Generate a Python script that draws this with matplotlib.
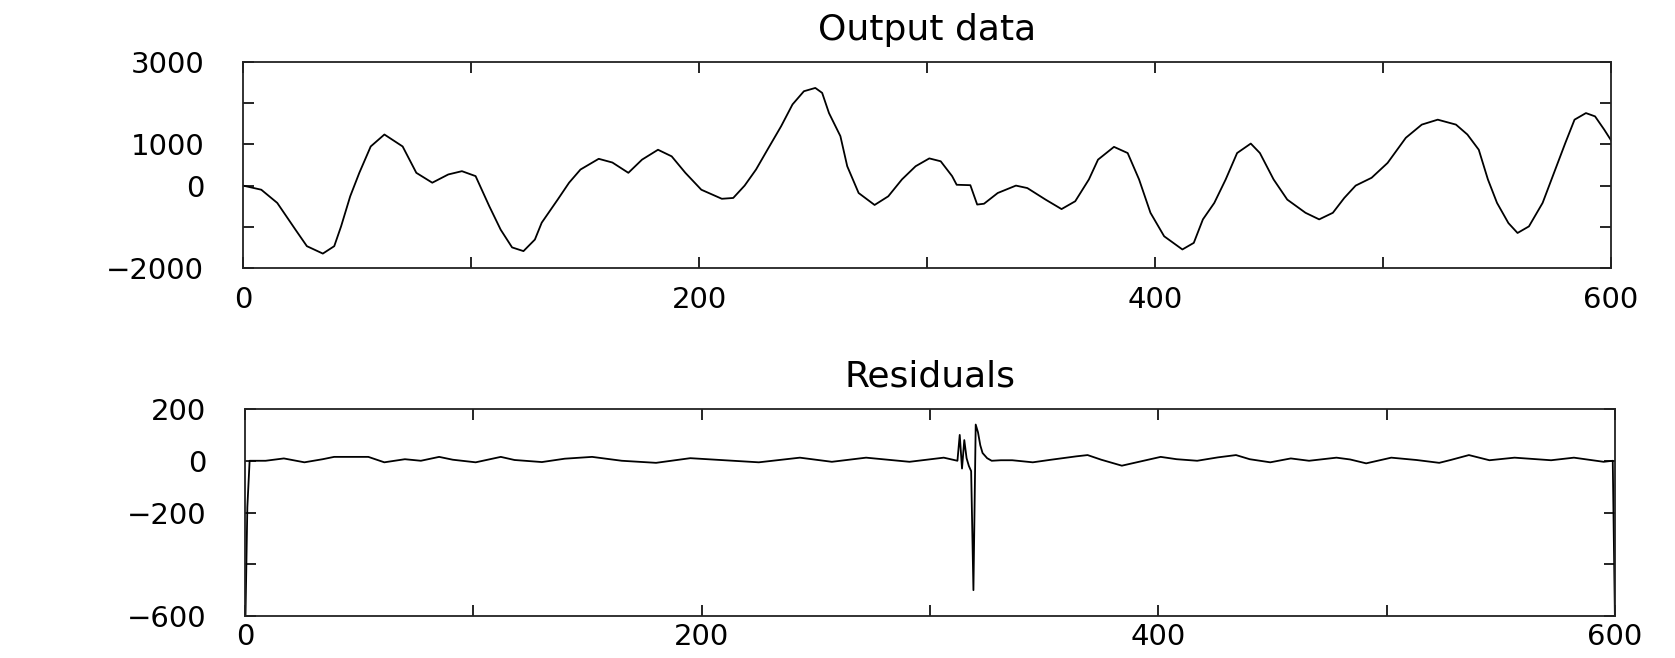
import matplotlib
matplotlib.use("Agg")
import matplotlib.pyplot as plt

# sinal de saida
saida_x = [0, 8, 15, 23, 28, 35, 40, 43, 47, 51, 56, 62, 70, 76, 83, 90, 96, 102, 108, 113,
           118, 123, 128, 131, 135, 138, 143, 148, 156, 162, 169, 175, 182, 188, 194, 201,
           210, 215, 220, 225, 230, 236, 241, 246, 251, 254, 257, 262, 265, 270, 277, 283,
           289, 295, 301, 306, 311, 313, 319, 322, 325, 331, 339, 344, 352, 359, 365, 371,
           375, 382, 388, 393, 398, 404, 412, 417, 421, 426, 431, 436, 442, 446, 452, 458,
           466, 472, 478, 483, 488, 495, 502, 510, 517, 524, 532, 537, 542, 546, 550, 555,
           559, 564, 570, 575, 580, 584, 589, 593, 597, 600]
saida_y = [0, -100, -420, -1070, -1470, -1650, -1470, -990, -260, 310, 950, 1240, 950, 310,
           70, 270, 350, 230, -500, -1070, -1500, -1590, -1310, -900, -580, -340, 70, 390,
           650, 560, 310, 630, 870, 710, 310, -100, -320, -300, 0, 390, 870, 1440, 1970,
           2290, 2370, 2250, 1760, 1200, 470, -180, -470, -260, 150, 470, 660, 590, 230,
           20, 10, -460, -440, -180, 0, -60, -340, -570, -380, 150, 630, 940, 790, 150,
           -660, -1230, -1550, -1390, -820, -420, 150, 790, 1020, 790, 150, -340, -660,
           -820, -660, -300, 0, 190, 550, 1160, 1480, 1600, 1480, 1240, 870, 150, -420,
           -910, -1150, -990, -420, 310, 1040, 1600, 1760, 1680, 1360, 1100]

# residuos
res_x = [0, 1, 2, 9, 17, 26, 34, 39, 54, 61, 70, 77, 85, 91, 101, 112, 118, 130, 140, 152,
         165, 180, 195, 210, 225, 243, 257, 272, 291, 306, 312, 313, 314, 315, 316, 317,
         318, 319, 320, 321, 322, 323, 325, 327, 331, 336, 345, 353, 364, 369, 375, 384,
         392, 401, 408, 417, 426, 434, 440, 449, 458, 466, 478, 484, 491, 502, 513, 523,
         528, 536, 545, 556, 572, 582, 595, 599, 600]
res_y = [-700, -180, 0, 0, 9, -6, 6, 15, 15, -6, 6, 0, 15, 4, -6, 15, 3, -5, 8, 15,
         0, -8, 10, 2, -6, 12, -4, 12, -4, 12, 0, 100, -30, 80, 10, -20,
         -40, -500, 140, 110, 60, 30, 10, 0, 2, 2, -6, 4, 17, 22, 4, -19,
         -3, 15, 6, 0, 13, 22, 6, -6, 9, 0, 12, 5, -10, 12, 3, -8,
         3, 22, 2, 12, 2, 12, -4, 0, -640]

ticks_x = [0, 100, 200, 300, 400, 500, 600]
rotulos_x = ["0", "", "200", "", "400", "", "600"]
ticks_y1 = [-2000, -1000, 0, 1000, 2000, 3000]
rotulos_y1 = ["\u22122000", "", "0", "1000", "", "3000"]
ticks_y2 = [-600, -400, -200, 0, 200]
rotulos_y2 = ["\u2212600", "", "\u2212200", "0", "200"]

plt.rcParams['font.family'] = ['DejaVu Sans']

fig = plt.figure(figsize=(16.75, 6.58), dpi=100)
ax1 = fig.add_axes([0.1451, 0.5927, 0.8167, 0.3131])
ax2 = fig.add_axes([0.1463, 0.0638, 0.8179, 0.3146])

ax1.plot(saida_x, saida_y, color="black", linewidth=1.3)
ax1.set_xlim(0, 600)
ax1.set_ylim(-2000, 3000)
ax1.set_xticks(ticks_x, rotulos_x)
ax1.set_yticks(ticks_y1, rotulos_y1)
ax1.set_title("Output data", fontsize=26, pad=16)
ax1.tick_params(axis='y', pad=28)
ax1.tick_params(axis='x', pad=13)

ax2.plot(res_x, res_y, color="black", linewidth=1.3)
ax2.set_xlim(0, 600)
ax2.set_ylim(-600, 200)
ax2.set_xticks(ticks_x, rotulos_x)
ax2.set_yticks(ticks_y2, rotulos_y2)
ax2.set_title("Residuals", fontsize=26, pad=16)
ax2.tick_params(axis='y', pad=28)
ax2.tick_params(axis='x', pad=5)

for ax in (ax1, ax2):
    ax.tick_params(direction='in', length=8, width=1.2, top=True, right=True,
                   labelsize=21, colors='black')
    for lado in ax.spines.values():
        lado.set_linewidth(1.3)
        lado.set_color('#222222')

fig.savefig("out.png", dpi=100)
